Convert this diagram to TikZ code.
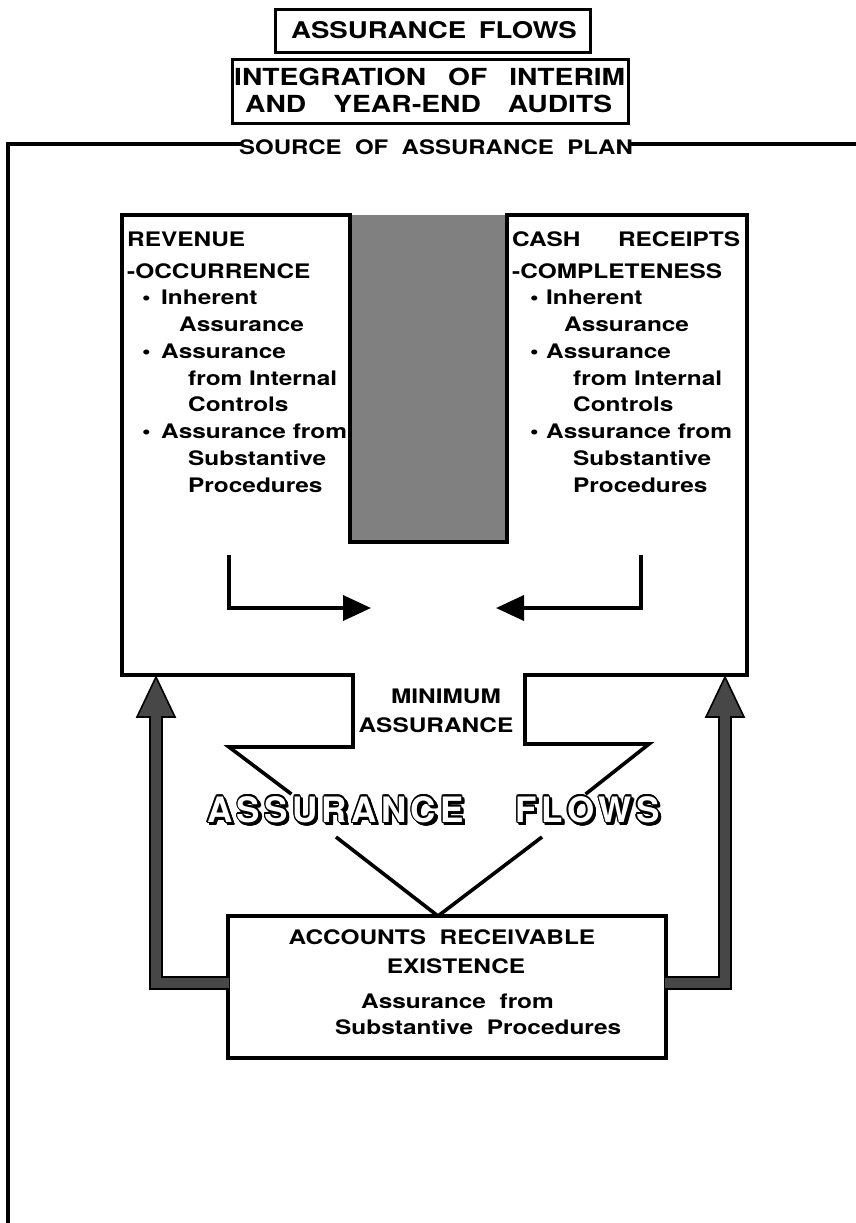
\documentclass[tikz,border=0pt]{standalone}
\usepackage{fontspec}
\setmainfont{TeX Gyre Heros}[FakeStretch=1.2]
\newfontfamily\bxfont{TeX Gyre Heros}[FakeStretch=1.22]
\newfontfamily\olfont{TeX Gyre Heros}
\usetikzlibrary{arrows.meta,calc}
\newcommand\olA{A\kern4.4pt S\kern4.4pt S\kern4.4pt U\kern4.4pt R\kern4.4pt A\kern4.4pt N\kern4.4pt C\kern4.4pt E}
\newcommand\olF{F\kern4.4pt L\kern4.4pt O\kern4.4pt W\kern4.4pt S}
\begin{document}
\begin{tikzpicture}[x=1pt,y=-1pt,
  ln/.style={line width=3.6pt,black,line cap=rect},
  bt/.style={font=\bxfont\bfseries\fontsize{20}{24}\selectfont,inner sep=0pt,anchor=base west},
  ol/.style={font=\olfont\bfseries\fontsize{35}{38}\selectfont,inner sep=0pt,anchor=base},
  tip/.style={-{Triangle[length=28pt,width=25pt]}},
  flowfill/.style={fill=black!72},
  flowedge/.style={line width=1.6pt,draw=black,line join=miter}]
\useasboundingbox (0,0) rectangle (856,1223);
\fill[white] (0,0) rectangle (856,1223);
% titles
\node[draw,line width=3pt,minimum width=315pt,minimum height=43pt,inner sep=0pt] (title) at (432.5,31.5) {};
\node[font=\bfseries\fontsize{23}{26}\selectfont,inner sep=0pt,anchor=base] (titlet) at (434,39) {ASSURANCE\hspace{0.55em}FLOWS};
\node[draw,line width=3pt,minimum width=396pt,minimum height=63pt,inner sep=0pt] (integ) at (430,91.5) {};
\node[font=\bfseries\fontsize{23.5}{26}\selectfont,inner sep=0pt,anchor=base west] (integ1) at (234,85)
  {\makebox[391pt][s]{INTEGRATION\hfill OF\hfill INTERIM}};
\node[font=\bfseries\fontsize{23.5}{26}\selectfont,inner sep=0pt,anchor=base west] (integ2) at (245,112)
  {\makebox[367pt][s]{AND\hfill YEAR-END\hfill AUDITS}};
% source frame
\node[font=\bfseries\fontsize{20}{22}\selectfont,inner sep=0pt] (src) at (436,147) {SOURCE\ \ OF\ \ ASSURANCE\ \ PLAN};
\coordinate (fl) at (8,144);
\draw[ln] (src.west|-fl) -- (fl) -- (8,1223);
\draw[ln] (src.east|-fl) -- (856,144);
% gray column
\fill[black!50] (350,215) rectangle (507,542);
\draw[ln] (350,215) -- (350,542) -- (507,542) -- (507,215);
% main outlines
\draw[ln,line join=miter] (350,215) -- (122,215) -- (122,675) -- (353,675) -- (353,747) -- (229,747) -- (290,793);
\draw[ln,line join=miter] (507,215) -- (747,215) -- (747,675) -- (525,675) -- (525,744) -- (649,744) -- (587,793);
% box texts
\newcommand\boxlines[5]{%
  \node[bt] (#2h1) at (#1,246) {#3};
  \node[bt] (#2h2) at (#1,278) {#4};
  \foreach \n/\dx/\k/\t in {3/34/1/Inherent,4/52/0/Assurance,5/34/1/Assurance,6/61/0/from Internal,
      7/61/0/Controls,8/34/1/Assurance from,9/61/0/Substantive,10/61/0/Procedures}{
    \pgfmathsetmacro\yy{278+(\n-2)*26.75}
    \node[bt] (#2l\n) at (#1+\dx,\yy) {\t};
    \ifnum\k=1 \node[bt] (#2b\n) at (#1+#5,\yy) {\textbullet};\fi
  }}
\boxlines{127}{rev}{REVENUE}{-OCCURRENCE}{15}
\boxlines{512}{cash}{\makebox[228pt][s]{CASH\hfill RECEIPTS}}{-COMPLETENESS}{18}
% inner L arrows
\coordinate (la) at (229,555);
\coordinate (ra) at (641,555);
\draw[ln,line cap=butt,tip] (la) |- (371,608);
\draw[ln,line cap=butt,tip] (ra) |- (496,608);
% minimum assurance
\node[bt,anchor=base] (min1) at (446,703) {MINIMUM};
\node[bt,anchor=base] (min2) at (436,732) {ASSURANCE};
% outlined text
\foreach \nm/\px/\word in {af1/335.5/\olA,af2/587.5/\olF}{
  \foreach \a in {0,30,...,330}{
    \node[ol,text=black] at ($(\px,822)+(2.2,2.6)+(\a:1.2)$) {\word};
  }
  \foreach \a in {0,30,...,330}{
    \node[ol,text=black] at ($(\px,822)+(\a:1.2)$) {\word};
  }
  \node[ol,text=white] (\nm) at (\px,822) {\word};
}
% AR box
\node[draw,line width=3.6pt,minimum width=438pt,minimum height=142pt,inner sep=0pt] (ar) at (447,987) {};
\node[bt,anchor=base] (ar1) at (442,944) {ACCOUNTS\ \ RECEIVABLE};
\node[bt,anchor=base] (ar2) at (456,973) {EXISTENCE};
\node[bt] (ar3) at (361,1008) {Assurance\ \ from};
\node[bt] (ar4) at (335,1034) {Substantive\ \ Procedures};
% lower diagonals
\coordinate (apex) at (438,916);
\draw[ln,line cap=butt] (336,837) -- (apex);
\draw[ln,line cap=butt] (542,837) -- (apex);
% thick gray arrows
\coordinate (a1) at (229,977); \coordinate (a2) at (162,977); \coordinate (a3) at (162,717);
\coordinate (a4) at (175,717); \coordinate (tl) at (156,677); \coordinate (a5) at (137,717);
\coordinate (a6) at (150,717); \coordinate (a7) at (150,989); \coordinate (a8) at (229,989);
\fill[flowfill] (a1) -- (a2) -- (a3) -- (a4) -- (tl) -- (a5) -- (a6) -- (a7) -- (a8) -- cycle;
\draw[flowedge] (a1) -- (a2) -- (a3) -- (a4) -- (tl) -- (a5) -- (a6) -- (a7) -- (a8);
\coordinate (b1) at (665,977); \coordinate (b2) at (719,977); \coordinate (b3) at (719,717);
\coordinate (b4) at (706,717); \coordinate (tr) at (725,677); \coordinate (b5) at (744,717);
\coordinate (b6) at (731,717); \coordinate (b7) at (731,989); \coordinate (b8) at (665,989);
\fill[flowfill] (b1) -- (b2) -- (b3) -- (b4) -- (tr) -- (b5) -- (b6) -- (b7) -- (b8) -- cycle;
\draw[flowedge] (b1) -- (b2) -- (b3) -- (b4) -- (tr) -- (b5) -- (b6) -- (b7) -- (b8);
\end{tikzpicture}
\end{document}
